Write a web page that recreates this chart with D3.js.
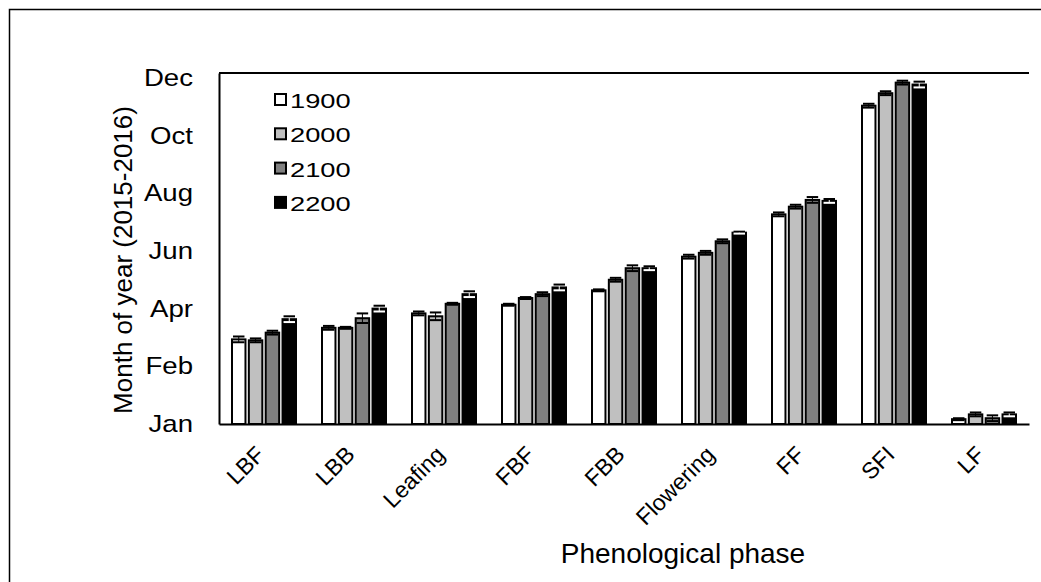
<!DOCTYPE html>
<html>
<head>
<meta charset="utf-8">
<script src="https://cdn.jsdelivr.net/npm/d3@7"></script>
<style>
  html, body { margin: 0; padding: 0; background: #ffffff; }
  svg { display: block; font-family: "Liberation Sans", Arial, sans-serif; }
</style>
</head>
<body>
<svg id="chart" width="1041" height="582"></svg>
<script>
// ---- data ----
const categories = ["LBF", "LBB", "Leafing", "FBF", "FBB", "Flowering", "FF", "SFI", "LF"];
const seriesNames = ["1900", "2000", "2100", "2200"];
const seriesColors = ["#ffffff", "#c0c0c0", "#808080", "#000000"];
const values1900 = [88, 100, 115, 124, 139, 174, 218, 331, 5];
const values2000 = [87, 100, 112, 131, 150, 178, 226, 344, 10];
const values2100 = [95, 110, 125, 135, 162, 190, 233, 355, 6];
const values2200 = [109, 120, 135, 142, 162, 199, 232, 353, 10];
const errors1900 = [3, 2, 2, 1, 1, 2, 2, 2, 1];
const errors2000 = [2, 1, 4, 1, 2, 2, 2, 2, 2];
const errors2100 = [2, 5, 1, 2, 3, 2, 3, 2, 3];
const errors2200 = [3, 3, 3, 3, 2, 1, 2, 3, 2];
const tickValues = [0, 60, 120, 180, 240, 300, 360];
const tickLabels = ["Jan", "Feb", "Apr", "Jun", "Aug", "Oct", "Dec"];

const seriesValues = [values1900, values2000, values2100, values2200];
const seriesErrors = [errors1900, errors2000, errors2100, errors2200];

const svg = d3.select("#chart");
const W = 1041, H = 582;
const mLeft = 219, mRight = 1029, mTop = 73, mBottom = 424;

// outer frame
svg.append("path")
  .attr("d", `M9.5,${H} L9.5,9.5 L${W},9.5`)
  .attr("fill", "none").attr("stroke", "#000").attr("stroke-width", 1.5);

const x = d3.scaleBand().domain(categories).range([mLeft, mRight]).paddingInner(0).paddingOuter(0);
const x1 = d3.scaleBand().domain(seriesNames).range([0, 64]).paddingInner(0.2);
const y = d3.scaleLinear().domain([0, 365]).range([mBottom, mTop]);

// top border of plot
svg.append("line").attr("x1", mLeft).attr("x2", mRight).attr("y1", mTop).attr("y2", mTop)
  .attr("stroke", "#000").attr("stroke-width", 2);

// bars
const rows = [];
categories.forEach((c, i) => {
  seriesNames.forEach((s, j) => {
    rows.push({ c, s, j, v: seriesValues[j][i], e: seriesErrors[j][i] });
  });
});

const g = svg.append("g");
const groupStart = c => x(c) + x.bandwidth() / 2 - 32;

g.selectAll("rect.bar").data(rows).join("rect")
  .attr("class", "bar")
  .attr("x", d => groupStart(d.c) + x1(d.s))
  .attr("width", x1.bandwidth())
  .attr("y", d => y(d.v))
  .attr("height", d => y(0) - y(d.v))
  .attr("fill", d => seriesColors[d.j])
  .attr("stroke", "#000").attr("stroke-width", 2);

// error bars
const eb = g.selectAll("g.err").data(rows).join("g").attr("class", "err");
eb.append("line")
  .attr("x1", d => groupStart(d.c) + x1(d.s) + x1.bandwidth() / 2)
  .attr("x2", d => groupStart(d.c) + x1(d.s) + x1.bandwidth() / 2)
  .attr("y1", d => y(d.v - d.e)).attr("y2", d => y(d.v + d.e))
  .attr("stroke", d => d.j === 3 ? "#fff" : "#000").attr("stroke-width", 1);
[1, -1].forEach(sg => {
  eb.append("line")
    .attr("x1", d => groupStart(d.c) + x1(d.s) + 1)
    .attr("x2", d => groupStart(d.c) + x1(d.s) + x1.bandwidth() - 1)
    .attr("y1", d => y(d.v + sg * d.e)).attr("y2", d => y(d.v + sg * d.e))
    .attr("stroke", d => (d.j === 3 && sg < 0) ? "#fff" : "#000").attr("stroke-width", 2);
});

// y axis
const yAxis = d3.axisLeft(y).tickValues(tickValues)
  .tickFormat((d, i) => tickLabels[i]).tickSize(0).tickPadding(26);
const ya = svg.append("g").attr("transform", `translate(${mLeft},0)`).call(yAxis);
ya.select(".domain").attr("stroke", "#000").attr("stroke-width", 2);
ya.selectAll("text").attr("font-size", 24).attr("fill", "#000")
  .attr("font-family", "Liberation Sans, Arial, sans-serif")
  .attr("x", 0)
  .attr("transform", "translate(-26,0) scale(1.15,1)");

// x axis
const xAxis = d3.axisBottom(x).tickSize(0).tickSizeOuter(0).tickPadding(0);
const xa = svg.append("g").attr("transform", `translate(0,${mBottom})`).call(xAxis);
xa.select(".domain").attr("stroke", "#000").attr("stroke-width", 2);
xa.selectAll("text")
  .attr("font-size", 23).attr("fill", "#000")
  .attr("font-family", "Liberation Sans, Arial, sans-serif")
  .attr("text-anchor", "end")
  .attr("dy", null).attr("y", null)
  .attr("transform", "translate(2,32) rotate(-45)");

// axis titles
svg.append("text")
  .attr("transform", `translate(132,260) rotate(-90)`)
  .attr("text-anchor", "middle").attr("font-size", 26).attr("fill", "#000")
  .text("Month of year (2015-2016)");
svg.append("text")
  .attr("x", 683).attr("y", 563).attr("text-anchor", "middle")
  .attr("font-size", 28).attr("fill", "#000")
  .text("Phenological phase");

// legend
const lg = svg.append("g");
seriesNames.forEach((s, j) => {
  const ly = 100 + j * 34.3;
  lg.append("rect").attr("x", 275).attr("y", ly - 6).attr("width", 11).attr("height", 11)
    .attr("fill", seriesColors[j]).attr("stroke", "#000").attr("stroke-width", 2);
  lg.append("text").attr("x", 0).attr("y", 0).attr("font-size", 21)
    .attr("transform", `translate(290,${ly + 8}) scale(1.3,1)`)
    .attr("fill", "#000").text(s);
});
</script>
</body>
</html>
